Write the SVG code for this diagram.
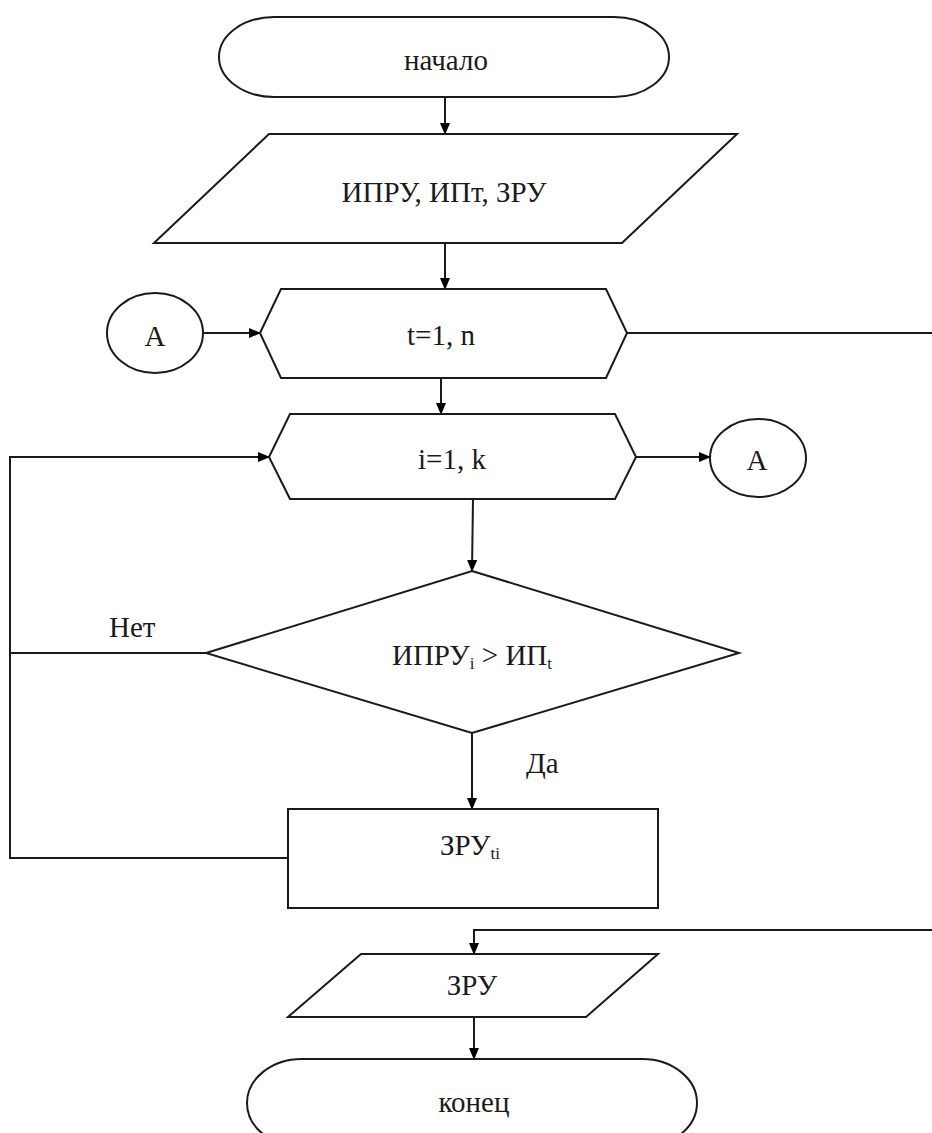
<svg xmlns="http://www.w3.org/2000/svg" width="932" height="1133" viewBox="0 0 932 1133">
<defs>
<marker id="arr" markerUnits="userSpaceOnUse" markerWidth="12" markerHeight="10" refX="11" refY="5" orient="auto">
<path d="M0,0 L12,5 L0,10 Z" fill="#000"/>
</marker>
<style>
.s{fill:#fff;stroke:#1a1a1a;stroke-width:2}
.c{fill:none;stroke:#1a1a1a;stroke-width:2}
text{font-family:'Liberation Serif','DejaVu Serif',serif;font-size:29px;fill:#1a1a1a}
.m{text-anchor:middle}
.sub{font-size:17px}
</style>
</defs>
<rect width="932" height="1133" fill="#fff"/>
<g id="connectors">
<line class="c" x1="445" y1="97" x2="445" y2="134" marker-end="url(#arr)"/>
<line class="c" x1="445" y1="243" x2="445" y2="289" marker-end="url(#arr)"/>
<line class="c" x1="204" y1="333" x2="260" y2="333" marker-end="url(#arr)"/>
<line class="c" x1="627" y1="333" x2="932" y2="333"/>
<line class="c" x1="441" y1="378" x2="441" y2="414" marker-end="url(#arr)"/>
<line class="c" x1="636" y1="457" x2="710" y2="457" marker-end="url(#arr)"/>
<polyline class="c" points="288,858 10,858 10,457 269,457" marker-end="url(#arr)"/>
<line class="c" x1="206" y1="653" x2="10" y2="653"/>
<line class="c" x1="473" y1="499" x2="472" y2="571" marker-end="url(#arr)"/>
<line class="c" x1="472" y1="733" x2="472" y2="809" marker-end="url(#arr)"/>
<polyline class="c" points="932,930 474,930 474,954" marker-end="url(#arr)"/>
<line class="c" x1="474" y1="1017" x2="474" y2="1059" marker-end="url(#arr)"/>
</g>
<g id="start">
<rect class="s" x="219" y="17" width="450" height="80" rx="55" ry="40"/>
<text class="m" x="446" y="70" font-family="Liberation Serif, serif">начало</text>
</g>
<g id="input">
<polygon class="s" points="269,134 737,134 622,243 154,243"/>
<text class="m" x="444" y="202" font-family="Liberation Serif, serif">ИПРУ, ИПт, ЗРУ</text>
</g>
<g id="loop-t">
<polygon class="s" points="260,333 281,289 606,289 627,333 606,378 281,378"/>
<text class="m" x="441" y="345" font-family="Liberation Serif, serif">t=1, n</text>
</g>
<g id="conn-a-left">
<ellipse class="s" cx="155" cy="333" rx="48" ry="40"/>
<text class="m" x="155" y="346" font-family="Liberation Serif, serif">A</text>
</g>
<g id="loop-i">
<polygon class="s" points="269,457 290,414 615,414 636,457 615,499 290,499"/>
<text class="m" x="452" y="469" font-family="Liberation Serif, serif">i=1, k</text>
</g>
<g id="conn-a-right">
<ellipse class="s" cx="758" cy="458" rx="48" ry="39"/>
<text class="m" x="757" y="470" font-family="Liberation Serif, serif">A</text>
</g>
<g id="decision">
<polygon class="s" points="472,571 739,653 472,733 206,653"/>
<text class="m" x="472" y="665" font-family="Liberation Serif, serif">ИПРУ<tspan class="sub" dy="4">i</tspan><tspan dy="-4"> &gt; ИП</tspan><tspan class="sub" dy="4">t</tspan></text>
</g>
<g id="labels">
<text x="109" y="637" font-family="Liberation Serif, serif">Нет</text>
<text x="526" y="773" font-family="Liberation Serif, serif">Да</text>
</g>
<g id="process">
<rect class="s" x="288" y="809" width="370" height="99"/>
<text x="440" y="855" font-family="Liberation Serif, serif">ЗРУ<tspan class="sub" dy="4">ti</tspan></text>
</g>
<g id="output">
<polygon class="s" points="361,954 658,954 586,1017 288,1017"/>
<text class="m" x="472" y="995" font-family="Liberation Serif, serif">ЗРУ</text>
</g>
<g id="end">
<rect class="s" x="247" y="1059" width="450" height="88" rx="55" ry="44"/>
<text class="m" x="474" y="1112" font-family="Liberation Serif, serif">конец</text>
</g>
</svg>
